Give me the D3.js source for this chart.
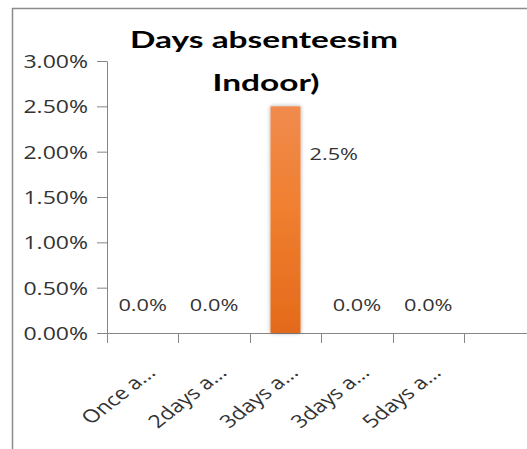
<!DOCTYPE html>
<html>
<head>
<meta charset="utf-8">
<script src="https://cdn.jsdelivr.net/npm/d3@7"></script>
<style>
  html, body { margin: 0; padding: 0; background: #ffffff; }
  svg { display: block; }
</style>
</head>
<body>
<svg id="chart" width="527" height="449"></svg>
<script>
// Chart data
const categories = ["Once a...", "2days a...", "3days a...", "3days a...", "5days a..."];
const values = [0, 0, 0.025, 0, 0];
const yTicks = [0, 0.005, 0.01, 0.015, 0.02, 0.025, 0.03];
const titleLines = ["Days absenteesim", "Indoor)"];

const W = 527, H = 449;
const plot = { left: 107, right: 464, top: 61, bottom: 333 };
const K = 1.28; // horizontal text stretch used throughout the sheet
const textColor = "#333333";
const axisColor = "#868686";

const svg = d3.select("#chart");
const defs = svg.append("defs");

const grad = defs.append("linearGradient")
  .attr("id", "barFill").attr("x1", 0).attr("y1", 0).attr("x2", 0).attr("y2", 1);
grad.append("stop").attr("offset", "0%").attr("stop-color", "#f08b4e");
grad.append("stop").attr("offset", "45%").attr("stop-color", "#f07f30");
grad.append("stop").attr("offset", "100%").attr("stop-color", "#e36a1a");

const shadow = defs.append("filter").attr("id", "barShadow")
  .attr("x", "-50%").attr("y", "-10%").attr("width", "200%").attr("height", "120%");
shadow.append("feGaussianBlur").attr("in", "SourceAlpha").attr("stdDeviation", 2.2).attr("result", "b");
shadow.append("feComponentTransfer").attr("in", "b").attr("result", "s")
  .append("feFuncA").attr("type", "linear").attr("slope", 0.35);
const merge = shadow.append("feMerge");
merge.append("feMergeNode").attr("in", "s");
merge.append("feMergeNode").attr("in", "SourceGraphic");

// Outer frame (top and left edges)
svg.append("path")
  .attr("d", `M12.5,${H} V8.5 H${W}`)
  .attr("fill", "none").attr("stroke", "#8c8c8c").attr("stroke-width", 1.5);

// Scales
const idx = d3.range(categories.length);
const x = d3.scaleBand().domain(idx).range([plot.left, plot.right])
  .paddingInner(0.58).paddingOuter(0.29);
const y = d3.scaleLinear().domain([0, 0.03]).range([plot.bottom, plot.top]);
const pct2 = d3.format(".2%");
const pct1 = d3.format(".1%");

// Y axis
const yAxis = svg.append("g")
  .attr("transform", `translate(${plot.left},0)`)
  .call(d3.axisLeft(y).tickValues(yTicks).tickFormat(pct2).tickSize(10).tickSizeOuter(0));
yAxis.select(".domain").attr("stroke", axisColor);
yAxis.selectAll(".tick line").attr("stroke", axisColor);
yAxis.selectAll(".tick text")
  .attr("x", -19 / K)
  .attr("dy", "0.36em")
  .attr("transform", `scale(${K},1)`)
  .attr("fill", textColor)
  .style("font-family", "'Open Sans', sans-serif")
  .style("font-size", "18px");

// X axis: line along zero, ticks at category boundaries
const bounds = d3.range(categories.length + 1).map(i => x.range()[0] + i * x.step());
const xAxis = svg.append("g").attr("transform", `translate(0,${y(0)})`);
xAxis.append("line")
  .attr("x1", plot.left).attr("x2", W).attr("y1", 0.5).attr("y2", 0.5)
  .attr("stroke", axisColor);
xAxis.selectAll("line.tick").data(bounds).join("line")
  .attr("class", "tick")
  .attr("x1", d => Math.round(d) + 0.5).attr("x2", d => Math.round(d) + 0.5)
  .attr("y1", 0).attr("y2", 10)
  .attr("stroke", axisColor);

// Bars
svg.append("g").selectAll("rect").data(values).join("rect")
  .attr("x", (d, i) => x(i))
  .attr("y", d => y(d))
  .attr("width", x.bandwidth())
  .attr("height", d => y(0) - y(d))
  .attr("fill", "url(#barFill)")
  .attr("filter", "url(#barShadow)");

// Category labels, rotated
svg.append("g").selectAll("text").data(categories).join("text")
  .attr("transform", (d, i) => `translate(${x(i) + x.bandwidth() / 2 + 14},374) scale(${K},1) rotate(-45)`)
  .attr("text-anchor", "end")
  .attr("fill", textColor)
  .style("font-family", "'Open Sans', sans-serif")
  .style("font-size", "18px")
  .text(d => d);

// Value labels
const titleBottom = 100;
svg.append("g").selectAll("text").data(values).join("text")
  .attr("transform", (d, i) => {
    const above = y(d) - 22;
    if (above > titleBottom) {
      return `translate(${x(i) + x.bandwidth() / 2},${above}) scale(${K},1)`;
    }
    return `translate(${x(i) + x.bandwidth() + 9},${y(d) + 54}) scale(${K},1)`;
  })
  .attr("text-anchor", d => (y(d) - 22 > titleBottom ? "middle" : "start"))
  .attr("fill", textColor)
  .style("font-family", "'Open Sans', sans-serif")
  .style("font-size", "17px")
  .text(d => pct1(d));

// Title
const title = svg.append("g");
const t1 = title.append("text")
  .attr("text-anchor", "middle")
  .attr("fill", "#000")
  .style("font-family", "Lato, sans-serif")
  .style("font-weight", "bold")
  .style("font-size", "23px")
  .text(titleLines[0]);
const tk = 268 / t1.node().getComputedTextLength();
t1.attr("transform", `translate(264,48) scale(${tk},1)`);
title.append("text")
  .attr("text-anchor", "middle")
  .attr("transform", `translate(266,91) scale(${tk},1)`)
  .attr("fill", "#000")
  .style("font-family", "Lato, sans-serif")
  .style("font-weight", "bold")
  .style("font-size", "23px")
  .text(titleLines[1]);
</script>
</body>
</html>
